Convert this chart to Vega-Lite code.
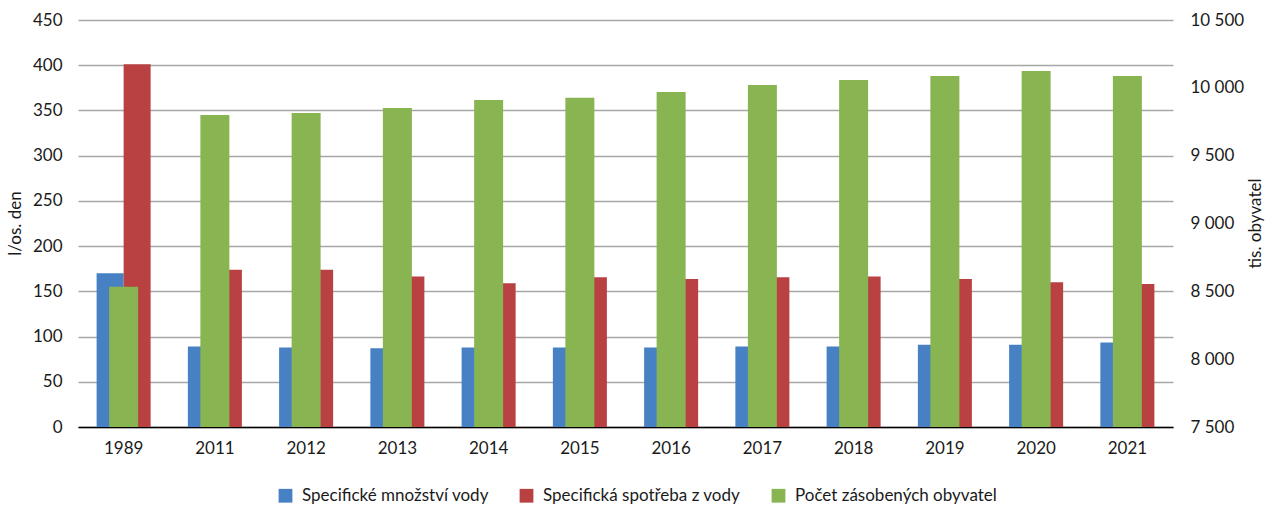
{
  "$schema": "https://vega.github.io/schema/vega-lite/v6.json",
  "width": 1095,
  "height": 407,
  "autosize": "none",
  "padding": {"left": 78, "top": 20, "right": 96, "bottom": 80},
  "config": {
    "font": "Lato",
    "view": {"stroke": null},
    "axis": {"labelFontSize": 17, "labelColor": "#1a1a1a", "titleFontSize": 17, "titleFontWeight": "normal", "titleColor": "#1a1a1a", "ticks": false, "tickSize": 0}
  },
  "data": {
    "values": [
      {"year": "1989", "series": "Specifické množství vody", "value": 170},
      {"year": "1989", "series": "Specifická spotřeba z vody", "value": 401},
      {"year": "1989", "series": "Počet zásobených obyvatel", "value": 8533},
      {"year": "2011", "series": "Specifické množství vody", "value": 89},
      {"year": "2011", "series": "Specifická spotřeba z vody", "value": 174},
      {"year": "2011", "series": "Počet zásobených obyvatel", "value": 9800},
      {"year": "2012", "series": "Specifické množství vody", "value": 88},
      {"year": "2012", "series": "Specifická spotřeba z vody", "value": 174},
      {"year": "2012", "series": "Počet zásobených obyvatel", "value": 9815},
      {"year": "2013", "series": "Specifické množství vody", "value": 87},
      {"year": "2013", "series": "Specifická spotřeba z vody", "value": 166.5},
      {"year": "2013", "series": "Počet zásobených obyvatel", "value": 9852},
      {"year": "2014", "series": "Specifické množství vody", "value": 88},
      {"year": "2014", "series": "Specifická spotřeba z vody", "value": 159},
      {"year": "2014", "series": "Počet zásobených obyvatel", "value": 9911},
      {"year": "2015", "series": "Specifické množství vody", "value": 88},
      {"year": "2015", "series": "Specifická spotřeba z vody", "value": 165.5},
      {"year": "2015", "series": "Počet zásobených obyvatel", "value": 9926},
      {"year": "2016", "series": "Specifické množství vody", "value": 88},
      {"year": "2016", "series": "Specifická spotřeba z vody", "value": 163.5},
      {"year": "2016", "series": "Počet zásobených obyvatel", "value": 9970},
      {"year": "2017", "series": "Specifické množství vody", "value": 89},
      {"year": "2017", "series": "Specifická spotřeba z vody", "value": 165.5},
      {"year": "2017", "series": "Počet zásobených obyvatel", "value": 10021},
      {"year": "2018", "series": "Specifické množství vody", "value": 89},
      {"year": "2018", "series": "Specifická spotřeba z vody", "value": 166.5},
      {"year": "2018", "series": "Počet zásobených obyvatel", "value": 10058},
      {"year": "2019", "series": "Specifické množství vody", "value": 91},
      {"year": "2019", "series": "Specifická spotřeba z vody", "value": 163.5},
      {"year": "2019", "series": "Počet zásobených obyvatel", "value": 10088},
      {"year": "2020", "series": "Specifické množství vody", "value": 91},
      {"year": "2020", "series": "Specifická spotřeba z vody", "value": 160},
      {"year": "2020", "series": "Počet zásobených obyvatel", "value": 10124},
      {"year": "2021", "series": "Specifické množství vody", "value": 93.5},
      {"year": "2021", "series": "Specifická spotřeba z vody", "value": 158},
      {"year": "2021", "series": "Počet zásobených obyvatel", "value": 10088}
    ]
  },
  "encoding": {
    "x": {
      "field": "year",
      "type": "nominal",
      "scale": {"paddingInner": 0.408, "paddingOuter": 0.204},
      "axis": {"title": null, "labelAngle": 0, "labelPadding": 13, "domain": true, "domainColor": "#000000", "domainWidth": 1.5, "grid": false}
    },
    "color": {
      "field": "series",
      "type": "nominal",
      "scale": {
        "domain": ["Specifické množství vody", "Specifická spotřeba z vody", "Počet zásobených obyvatel"],
        "range": ["#4781C4", "#B94141", "#88B451"]
      },
      "legend": {
        "orient": "none",
        "legendX": 199,
        "legendY": 467,
        "direction": "horizontal",
        "title": null,
        "symbolType": "square",
        "symbolSize": 190,
        "symbolStrokeWidth": 0,
        "labelFontSize": 17,
        "labelLimit": 0,
        "labelColor": "#1a1a1a",
        "labelOffset": 8,
        "columnPadding": 29
      }
    }
  },
  "layer": [
    {
      "transform": [{"filter": "datum.series !== 'Počet zásobených obyvatel'"}],
      "mark": "bar",
      "encoding": {
        "xOffset": {"field": "series", "type": "nominal", "scale": {"domain": ["Specifické množství vody", "Specifická spotřeba z vody"]}},
        "y": {
          "field": "value",
          "type": "quantitative",
          "scale": {"domain": [0, 450]},
          "axis": {
            "title": "l/os. den",
            "values": [0, 50, 100, 150, 200, 250, 300, 350, 400, 450],
            "domain": false,
            "grid": true,
            "gridColor": "#a6a6a6",
            "gridWidth": 1.5,
            "labelPadding": 16,
            "titleX": -63,
            "titleY": 203,
            "titleAngle": -90,
            "titleAlign": "center",
            "titleBaseline": "middle"
          }
        }
      }
    },
    {
      "transform": [{"filter": "datum.series === 'Počet zásobených obyvatel'"}],
      "mark": {"type": "bar", "width": 29},
      "encoding": {
        "y": {
          "field": "value",
          "type": "quantitative",
          "scale": {"domain": [7500, 10500], "zero": false},
          "axis": {
            "orient": "right",
            "title": "tis. obyvatel",
            "values": [7500, 8000, 8500, 9000, 9500, 10000, 10500],
            "labelExpr": "replace(format(datum.value, ',d'), ',', ' ')",
            "domain": false,
            "grid": false,
            "labelPadding": 17,
            "titleX": 82,
            "titleY": 203,
            "titleAngle": -90,
            "titleAlign": "center",
            "titleBaseline": "middle"
          }
        },
        "y2": {"datum": 7500}
      }
    }
  ],
  "resolve": {"scale": {"y": "independent"}}
}
